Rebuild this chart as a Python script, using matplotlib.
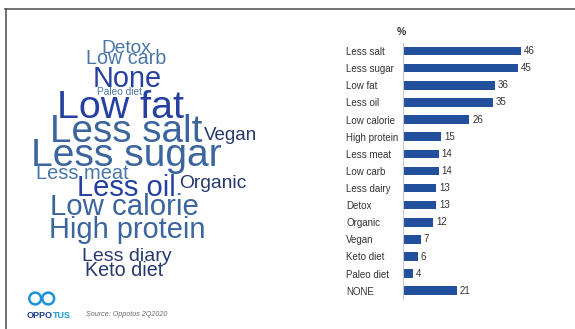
import matplotlib.pyplot as plt
from matplotlib.lines import Line2D
from matplotlib.patches import Circle

plt.rcParams['font.family'] = ['Liberation Sans', 'DejaVu Sans']

# bar chart data
categories = ["Less salt", "Less sugar", "Low fat", "Less oil", "Low calorie",
              "High protein", "Less meat", "Low carb", "Less dairy", "Detox",
              "Organic", "Vegan", "Keto diet", "Paleo diet", "NONE"]
values = [46, 45, 36, 35, 26, 15, 14, 14, 13, 13, 12, 7, 6, 4, 21]

# word cloud: word, font size (pt), colour group
cloud_words = ["Detox", "Low carb", "None", "Paleo diet", "Low fat", "Less salt",
               "Vegan", "Less sugar", "Less meat", "Less oil", "Organic",
               "Low calorie", "High protein", "Less diary", "Keto diet"]
cloud_sizes = [13.8, 14.2, 20.8, 7.3, 28.4, 27.9, 13.5, 28.1, 14.4, 21.0,
               13.9, 21.2, 20.9, 14.0, 14.2]
cloud_groups = [3, 3, 0, 3, 0, 1, 2, 1, 3, 0, 2, 1, 1, 2, 2]
# placement in pixels (left x, baseline y)
cloud_x = [101.7, 86, 92.7, 96.7, 57.3, 50, 204, 30.7, 35.7, 77.3, 179,
           50, 49, 82.3, 85]
cloud_y = [52.7, 64.3, 87.3, 95, 118.3, 141.7, 140, 165.7, 179.3, 196,
           188.3, 215, 237.7, 261, 276]
group_colors = ["#2540a0", "#3c659d", "#26396c", "#4a76a8"]

W, H = 575, 329
fig = plt.figure(figsize=(W / 100, H / 100), dpi=100)


def fx(px):
    return px / W


def fy(py):
    return 1 - py / H


# frame lines
fig.add_artist(Line2D([fx(5), 1], [fy(8.5), fy(8.5)], color="#5a5a5a", lw=1.2))
fig.add_artist(Line2D([fx(5.5), fx(5.5)], [fy(8.5), 0], color="#5a5a5a", lw=1.2))

# word cloud
for w, s, g, x, y in zip(cloud_words, cloud_sizes, cloud_groups, cloud_x, cloud_y):
    fig.text(fx(x), fy(y), w, fontsize=s, color=group_colors[g],
             ha="left", va="baseline")

# bar chart
ax = fig.add_axes([fx(402.7), fy(299.3), 154 / W, 256.8 / H])
pos = range(len(categories))
bars = ax.barh(pos, values, height=0.5, color="#22509c")
ax.bar_label(bars, labels=[str(v) for v in values], padding=2,
             fontsize=7, color="#333333")
ax.set_xlim(0, 60)
ax.set_ylim(len(categories) - 0.5, -0.5)
ax.set_yticks(list(pos))
ax.set_yticklabels(categories, fontsize=7, color="#333333", ha="left")
ax.tick_params(axis="y", length=0, pad=40.8)
ax.set_xticks([])
for sp in ["top", "right", "bottom"]:
    ax.spines[sp].set_visible(False)
ax.spines["left"].set_color("#c8c8c8")
ax.spines["left"].set_linewidth(0.8)
fig.text(fx(401), fy(32), "%", fontsize=7.5, fontweight="bold",
         color="#333333", ha="center", va="center")

# logo
lax = fig.add_axes([fx(20), fy(310), 45 / W, 25 / H])
lax.set_xlim(20, 65)
lax.set_ylim(310, 285)
lax.axis("off")
for cx in [35.2, 48.2]:
    lax.add_patch(Circle((cx, 298.5), 5.9, fill=False, ec="#1c93d8", lw=1.8))
fig.text(fx(26.7), fy(315), "OPPO", fontsize=6.5, fontweight="bold",
         color="#1b3d8c", ha="left", va="center")
fig.text(fx(52.4), fy(315), "TUS", fontsize=6.5, fontweight="bold",
         color="#1b9ad8", ha="left", va="center")
fig.text(fx(86), fy(315), "Source: Oppotus 2Q2020", fontsize=5.1,
         style="italic", color="#6a6a6a", ha="left", va="center")

fig.savefig("out.png", dpi=100)
